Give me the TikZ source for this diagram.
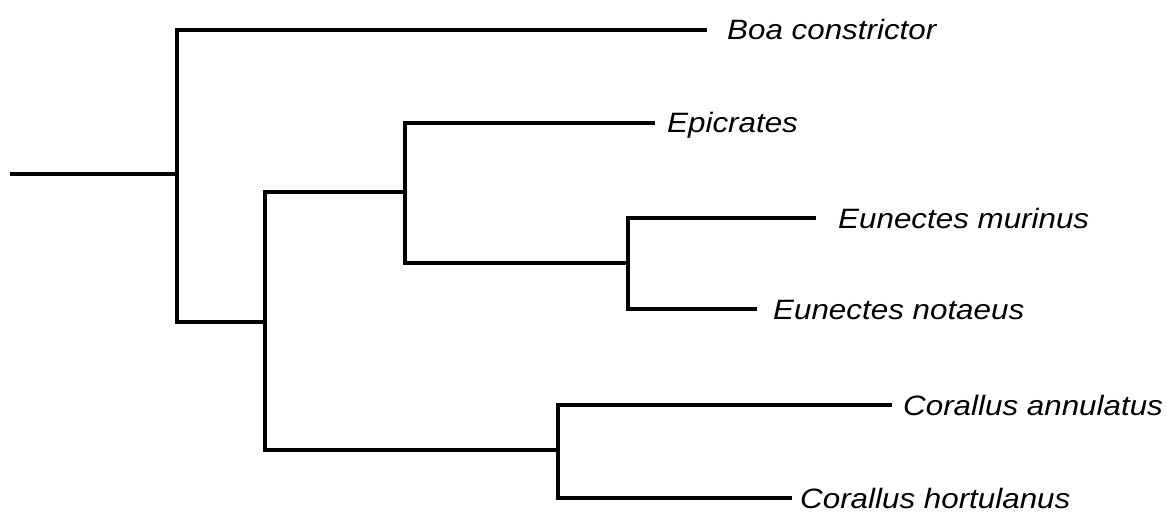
\documentclass[tikz,border=0pt]{standalone}
\usepackage{fontspec}
\setmainfont{Liberation Sans}
\begin{document}
\begin{tikzpicture}[x=1pt,y=-1pt,
  branch/.style={line width=4pt,black,line join=miter},
  taxon/.style={anchor=base west,inner sep=0pt,font=\fontsize{28}{34}\selectfont\itshape}]
\useasboundingbox (0,0) rectangle (1167,516);
% internal nodes
\coordinate (rootstart) at (10,174);
\coordinate (nA) at (177,174);
\coordinate (nB) at (265,322);
\coordinate (nC) at (405,192);
\coordinate (nD) at (628,263);
\coordinate (nF) at (558,450);
% tips
\coordinate (tBoa) at (707,30);
\coordinate (tEpi) at (655,123);
\coordinate (tMur) at (816,218);
\coordinate (tNot) at (757,309);
\coordinate (tAnn) at (892,405);
\coordinate (tHor) at (792,498);
% labels
\node[taxon] (lBoa) at (727,40) {\scalebox{1.12}[1]{Boa constrictor}};
\node[taxon] (lEpi) at (667,133) {\scalebox{1.12}[1]{Epicrates}};
\node[taxon] (lMur) at (838,228) {\scalebox{1.12}[1]{Eunectes murinus}};
\node[taxon] (lNot) at (773,319) {\scalebox{1.12}[1]{Eunectes notaeus}};
\node[taxon] (lAnn) at (903,415) {\scalebox{1.12}[1]{Corallus annulatus}};
\node[taxon] (lHor) at (800,508) {\scalebox{1.12}[1]{Corallus hortulanus}};
% branches
\draw[branch] (rootstart) -- (nA);
\draw[branch] (tBoa) -| (nA) |- (nB);
\draw[branch] (tEpi) -| (nC) |- (nD);
\draw[branch] (nC) -| (nB) |- (nF);
\draw[branch] (tMur) -| (nD) |- (tNot);
\draw[branch] (tAnn) -| (nF) |- (tHor);
\end{tikzpicture}
\end{document}
